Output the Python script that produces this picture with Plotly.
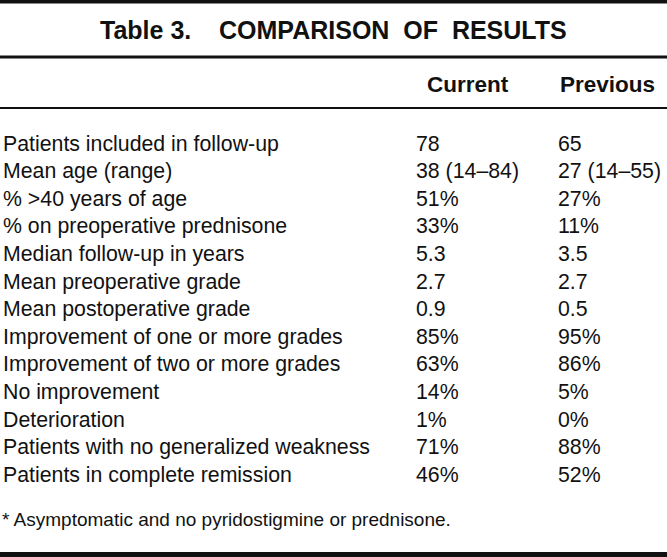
import plotly.graph_objects as go

title = "Table 3.   COMPARISON OF RESULTS"
col_headers = ["Current", "Previous"]
row_labels = [
    "Patients included in follow-up",
    "Mean age (range)",
    "% >40 years of age",
    "% on preoperative prednisone",
    "Median follow-up in years",
    "Mean preoperative grade",
    "Mean postoperative grade",
    "Improvement of one or more grades",
    "Improvement of two or more grades",
    "No improvement",
    "Deterioration",
    "Patients with no generalized weakness",
    "Patients in complete remission",
]
current_vals = ["78", "38 (14–84)", "51%", "33%", "5.3", "2.7", "0.9",
                "85%", "63%", "14%", "1%", "71%", "46%"]
previous_vals = ["65", "27 (14–55)", "27%", "11%", "3.5", "2.7", "0.5",
                 "95%", "86%", "5%", "0%", "88%", "52%"]
footnote = "* Asymptomatic and no pyridostigmine or prednisone."

W, H = 667, 557
FONT = "Liberation Sans, Arial, Helvetica, sans-serif"
INK = "#111111"

fig = go.Figure()
fig.add_trace(go.Scatter(x=[0, W], y=[0, H], mode="markers",
                         marker=dict(opacity=0), hoverinfo="skip", showlegend=False))

ann = []
ann.append(dict(x=W / 2, y=30,
                text="<b>" + title.replace("   ", "&nbsp;&nbsp;&nbsp; ").replace(" OF ", "&nbsp; OF&nbsp; ") + "</b>",
                xanchor="center", yanchor="middle",
                font=dict(family=FONT, size=25, color=INK)))
hdr_right = [511, 657]
for h, xr in zip(col_headers, hdr_right):
    ann.append(dict(x=xr, y=84, text=f"<b>{h}</b>", xanchor="right", yanchor="middle",
                    font=dict(family=FONT, size=22.5, color=INK)))

col_x = [414, 556]
y0, dy = 143.5, 27.6
for i, (lab, c, p) in enumerate(zip(row_labels, current_vals, previous_vals)):
    y = y0 + i * dy
    lab_html = lab.replace(">", "&gt;")
    ann.append(dict(x=1, y=y, text=lab_html, xanchor="left", yanchor="middle",
                    font=dict(family=FONT, size=21.3, color=INK)))
    ann.append(dict(x=col_x[0], y=y, text=c, xanchor="left", yanchor="middle",
                    font=dict(family=FONT, size=21.3, color=INK)))
    ann.append(dict(x=col_x[1], y=y, text=p, xanchor="left", yanchor="middle",
                    font=dict(family=FONT, size=21.3, color=INK)))

ann.append(dict(x=0, y=519, text=footnote, xanchor="left", yanchor="middle",
                font=dict(family=FONT, size=19, color=INK)))

for a in ann:
    a.update(xref="x", yref="y", showarrow=False, align="left")

rules = [(1.5, 4), (57, 3), (108, 2), (554.5, 5)]
shapes = [dict(type="line", xref="x", yref="y", x0=0, x1=W, y0=yy, y1=yy,
               line=dict(color=INK, width=w)) for yy, w in rules]

fig.update_layout(
    width=W, height=H, margin=dict(l=0, r=0, t=0, b=0),
    paper_bgcolor="white", plot_bgcolor="white",
    xaxis=dict(range=[0, W], visible=False, fixedrange=True),
    yaxis=dict(range=[H, 0], visible=False, fixedrange=True),
    annotations=ann, shapes=shapes, showlegend=False,
)
fig.write_html("out.html", config={"displayModeBar": False},
               post_script="document.body.style.margin='0';document.body.style.padding='0';")
